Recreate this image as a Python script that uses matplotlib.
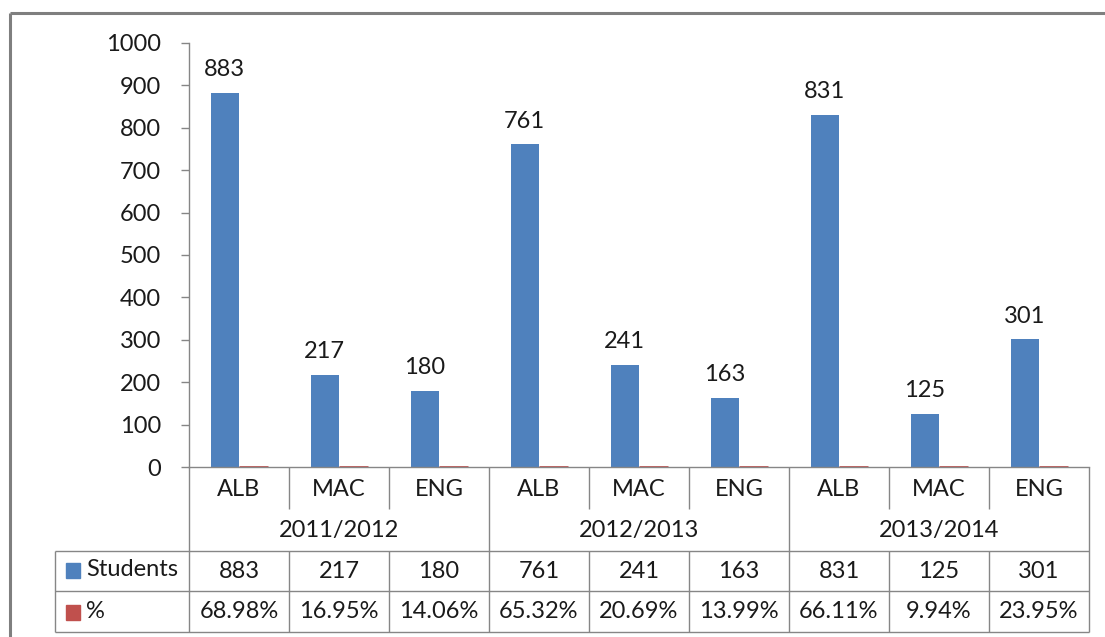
import matplotlib
matplotlib.use('Agg')
from matplotlib import pyplot as plt
from matplotlib.patches import Rectangle

plt.rcParams['font.family'] = ['Lato', 'DejaVu Sans']

# data
years = ['2011/2012', '2012/2013', '2013/2014']
langs = ['ALB', 'MAC', 'ENG']
students = [883, 217, 180, 761, 241, 163, 831, 125, 301]
percent = [68.98, 16.95, 14.06, 65.32, 20.69, 13.99, 66.11, 9.94, 23.95]

blue = '#4F81BD'
red = '#C0504D'
grid_c = '#868686'
fs = 17

W, H = 1105, 637
fig = plt.figure(figsize=(W / 100, H / 100), dpi=100)

# plot area: x 189..1089, y 43..467 (pixels from top)
x0, x1, ytop, ybot = 189, 1089, 43, 467
ax = fig.add_axes([x0 / W, (H - ybot) / H, (x1 - x0) / W, (ybot - ytop) / H])
n = len(students)
pos = list(range(n))
bw = 0.285
ax.bar([p - bw / 2 for p in pos], students, bw, color=blue)
# percent is plotted on the same 0-1000 scale, so it is almost flat
ax.bar([p + bw / 2 for p in pos], [v / 100 for v in percent], bw,
       color=red, edgecolor=red, linewidth=2)
for p, v in zip(pos, students):
    ax.annotate(str(v), (p - bw / 2, v), xytext=(0, 9), textcoords='offset points',
                ha='center', va='bottom', fontsize=fs, color='#1a1a1a')
ax.set_xlim(-0.5, n - 0.5)
ax.set_ylim(0, 1000)
ax.set_yticks(range(0, 1001, 100))
ax.set_xticks([])
for s in ['top', 'right']:
    ax.spines[s].set_visible(False)
for s in ['left', 'bottom']:
    ax.spines[s].set_color(grid_c)
    ax.spines[s].set_linewidth(1)
    ax.spines[s].set_zorder(3)
ax.tick_params(axis='y', length=6, width=1, color=grid_c, labelsize=fs,
               labelcolor='#1a1a1a', pad=14)
ax.patch.set_alpha(0)

# overlay in pixel coordinates for the data table and frame
ov = fig.add_axes([0, 0, 1, 1])
ov.set_xlim(0, W)
ov.set_ylim(H, 0)
ov.axis('off')
ov.patch.set_alpha(0)

def line(xs, ys, c=grid_c, lw=1):
    ov.plot(xs, ys, color=c, lw=lw, solid_capstyle='butt')

# outer frame (chart area border, cropped on right/bottom)
line([10, W], [13, 13], c='#7f7f7f', lw=2.2)
line([10, 10], [13, H], c='#7f7f7f', lw=2.2)

cw = (x1 - x0) / n
r_top, r_mid, r_yr, r_s, r_bot = 467, 509, 551, 591, 632
# horizontal lines
line([55, x1], [r_yr, r_yr])
line([55, x1], [r_s, r_s])
line([55, x1], [r_bot, r_bot])
# vertical lines
line([55, 55], [r_yr, r_bot])
for i in range(n + 1):
    x = x0 + i * cw
    if i % 3 == 0:
        line([x, x], [r_top, r_bot])
    else:
        line([x, x], [r_top, r_mid])
        line([x, x], [r_yr, r_bot])

for i in range(n):
    cx = x0 + (i + 0.5) * cw
    ov.text(cx, 489, langs[i % 3], ha='center', va='center', fontsize=fs, color='#1a1a1a')
    ov.text(cx, 571, str(students[i]), ha='center', va='center', fontsize=fs, color='#1a1a1a')
    ov.text(cx, 612, '%.2f%%' % percent[i], ha='center', va='center', fontsize=fs, color='#1a1a1a')
for j, y in enumerate(years):
    cx = x0 + (j * 3 + 1.5) * cw
    ov.text(cx, 530, y, ha='center', va='center', fontsize=fs, color='#1a1a1a')

# legend keys inside the table
ov.add_patch(Rectangle((66, 563), 14, 15, color=blue))
ov.text(86, 570, 'Students', ha='left', va='center', fontsize=fs, color='#1a1a1a')
ov.add_patch(Rectangle((66, 605), 14, 15, color=red))
ov.text(86, 612, '%', ha='left', va='center', fontsize=fs, color='#1a1a1a')

plt.savefig('out.png', dpi=100)
